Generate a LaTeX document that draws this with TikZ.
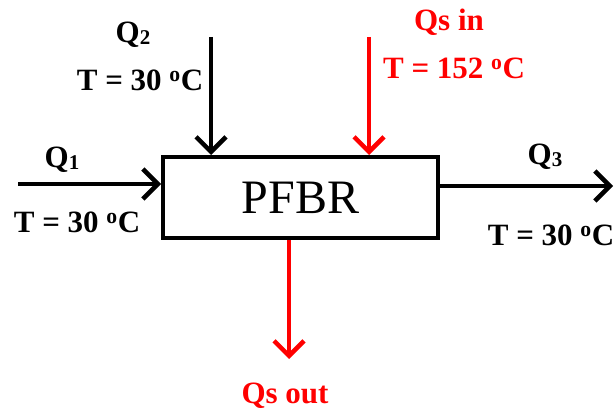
\documentclass[tikz,border=0pt]{standalone}
\usepackage{fontspec}
\setmainfont{Liberation Serif}
\usetikzlibrary{arrows.meta}
\tikzset{
  flow/.style={line width=4pt,-{Straight Barb[length=15pt,width=30pt,line width=4.5pt]}},
  redflow/.style={flow,draw=red},
  lbl/.style={font=\fontsize{31}{31}\selectfont\bfseries,inner sep=0pt},
  qlbl/.style={font=\fontsize{31}{31}\selectfont\bfseries,inner sep=0pt},
}
\newcommand{\sub}[1]{\raisebox{-0.1ex}{\fontsize{21}{21}\selectfont #1}}
\newcommand{\degc}{\textsuperscript{o}C}
\begin{document}
\begin{tikzpicture}[x=1pt,y=-1pt]
\useasboundingbox (0,0) rectangle (614,412);
\node[draw,line width=4pt,minimum width=275pt,minimum height=81pt,inner sep=0pt,
  font=\fontsize{48}{48}\selectfont] (box) at (300.5,197.5) {PFBR};
\coordinate (q1s) at (18,184);
\coordinate (q2s) at (211,37);
\coordinate (qis) at (369,37);
\coordinate (q3e) at (613,186);
\coordinate (qoe) at (289,359);
\draw[flow] (q1s) -- (q1s -| box.west);
\draw[flow] (q2s) -- (q2s |- box.north);
\draw[redflow] (qis) -- (qis |- box.north);
\draw[flow] (q3e -| box.east) -- (q3e);
\draw[redflow] (qoe |- box.south) -- (qoe);
\node[qlbl] (lq2) at (133,35) {Q\sub{2}};
\node[lbl] (lt2) at (140,80) {T = 30 \degc};
\node[qlbl] (lq1) at (62,160) {Q\sub{1}};
\node[lbl] (lt1) at (77,222) {T = 30 \degc};
\node[qlbl,text=red] (lqi) at (449,22) {Qs in};
\node[lbl,text=red] (lti) at (454,68) {T = 152 \degc};
\node[qlbl] (lq3) at (545,157) {Q\sub{3}};
\node[lbl] (lt3) at (551,235) {T = 30 \degc};
\node[qlbl,text=red] (lqo) at (285,396) {Qs out};
\end{tikzpicture}
\end{document}
